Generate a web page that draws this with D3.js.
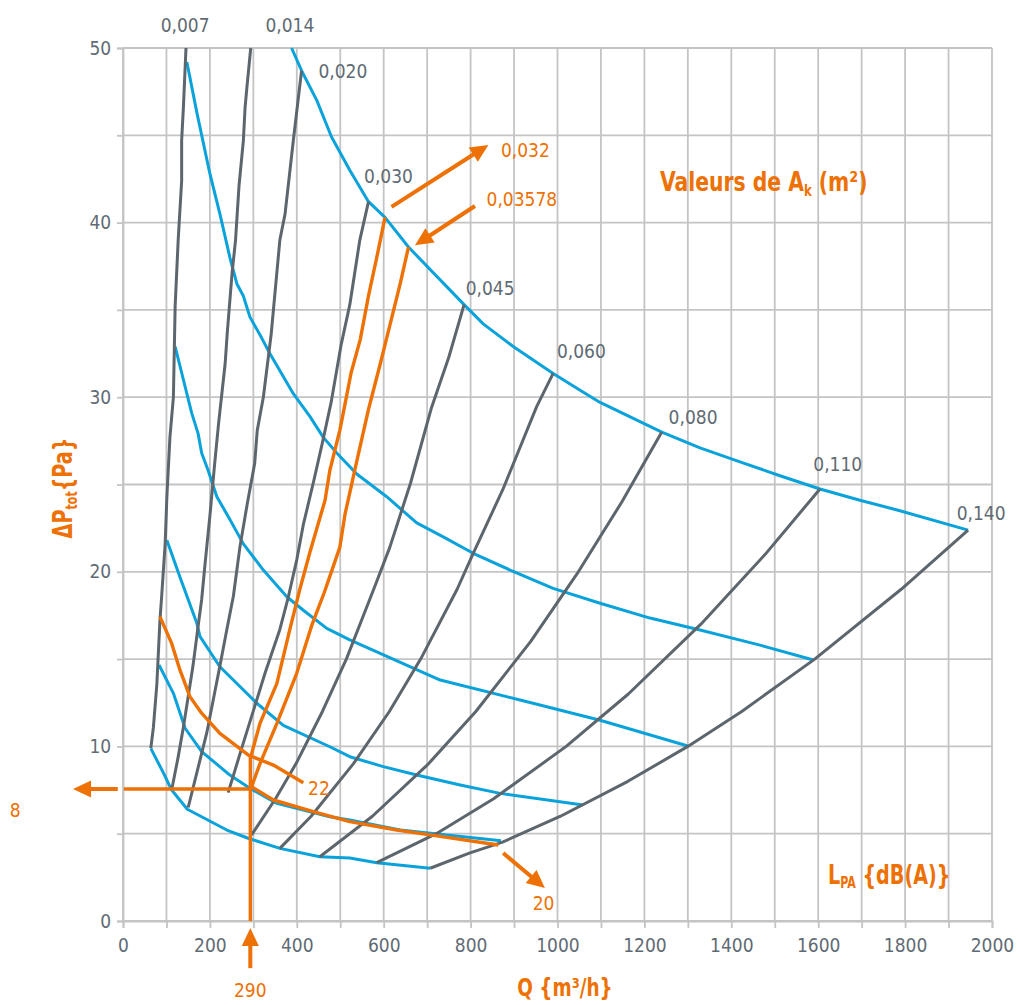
<!DOCTYPE html>
<html><head><meta charset="utf-8">
<script src="https://cdn.jsdelivr.net/npm/d3@7"></script>
<style>
html,body{margin:0;padding:0;background:#fff;}
svg text{font-family:"Liberation Sans Narrow","Arial Narrow","DejaVu Sans Condensed",sans-serif;}
</style></head><body>
<svg id="c" width="1020" height="1005"></svg>
<script>
// ---- data (Q in m3/h, dP in Pa) ----
const xTicks = [0,200,400,600,800,1000,1200,1400,1600,1800,2000];
const yTicks = [0,10,20,30,40,50];

// iso-Ak lines (grey)
const ak007 = [[145,50],[139,46.6],[135,44.7],[135,42.4],[127,39],[120,35.2],[116,30],[108,27.7],[101,24.3],[97,21.6],[89,18.6],[85,17.2],[78,13.6],[70,11.1],[64,9.9]];
const ak014 = [[294,50],[285,47.7],[281,46.6],[277,44.7],[267,42.1],[259,39],[251,37.1],[240,33.7],[235,31.9],[220,28.5],[211,26.2],[200,23.2],[189,20.5],[181,18.4],[174,17.1],[161,14.6],[139,11.1],[127,9.4],[112,7.5]];
const ak020 = [[411,48.7],[392,44.7],[373,40.5],[361,39],[341,33.6],[323,30],[309,28.1],[303,26.2],[286,23.9],[269,21.4],[254,18.6],[239,16.7],[223,14.6],[193,10.8],[150,6.5]];
const ak030 = [[565,41.2],[545,39],[522,35.3],[502,33],[479,29.7],[459,27.4],[438,25.1],[415,22.7],[400,20.7],[379,18.4],[361,16.7],[327,14.2],[272,9.8],[242,7.35]];
const ak045 = [[785,35.3],[750,32.3],[710,29.4],[662,25.1],[614,21.4],[577,19],[514,15],[459,12],[398,9],[351,7],[296,4.93]];
const ak060 = [[990,31.36],[952,29.46],[874,24.7],[806,21.06],[769,19],[685,15],[613,12],[530,9],[433,6],[361,4.16]];
const ak080 = [[1240,28],[1148,24],[1048,20],[938,16],[812,12],[703,9],[574,6],[453,3.68]];
const ak110 = [[1604,24.74],[1478,21],[1330,17],[1163,13],[1020,10],[853,7],[721,5],[584,3.34]];
const ak140 = [[1945,22.39],[1791,19],[1592,15],[1424,12],[1300,10],[1162,8],[1007,6],[872,4.5],[797,3.89],[707,3.02]];
const akLabels = ["0,007","0,014","0,020","0,030","0,045","0,060","0,080","0,110","0,140"];
const akLabelPos = [[143,50.93],[384,50.93],[506,48.3],[611,42.25],[845,35.85],[1055,32.25],[1312,28.46],[1645,25.75],[1975,22.97]];

// selected Ak (orange)
const ak032 = [[603,40.3],[584,38],[565,35.8],[546,33.3],[525,31.4],[507,29.1],[499,28.1],[476,25.8],[465,24.1],[430,21.1],[407,19],[384,16.7],[354,13.6],[315,11.3],[294,9.4]];
const ak03578 = [[657,38.6],[638,36.5],[615,34.2],[592,31.9],[565,29.3],[535,26],[511,23.3],[499,21.4],[463,18.8],[434,16.9],[400,14.2],[354,11.3],[315,9],[296,7.7]];

// iso-LPA curves (blue)
const lpaTop = [[388,50],[411,48.7],[446,47],[480,44.9],[522,43],[565,41.2],[603,40.3],[657,38.6],[785,35.3],[829,34.2],[898,32.9],[990,31.36],[1052,30.4],[1098,29.7],[1240,28],[1328,27.1],[1420,26.3],[1512,25.5],[1604,24.74],[1696,24.1],[1788,23.5],[1945,22.39]];
const lpa2 = [[147,49.2],[170,46.3],[200,42.8],[223,40.5],[246,38],[262,36.5],[277,35.8],[292,34.6],[319,33.4],[338,32.5],[392,30.2],[430,28.9],[461,27.7],[492,26.8],[538,25.6],[607,24.3],[676,22.8],[737,22],[806,21.06],[891,20.1],[990,19.05],[1098,18.2],[1213,17.35],[1328,16.67],[1466,15.8],[1589,14.95]];
const lpa3 = [[120,32.9],[139,31],[158,29.1],[173,27.9],[181,26.8],[196,25.8],[216,24.3],[246,23],[277,21.6],[323,20.1],[377,18.57],[415,17.8],[469,16.76],[522,16.1],[730,13.8],[914,12.66],[1098,11.5],[1300,10.02]];
const lpa4 = [[101,21.8],[131,19.7],[170,17.05],[177,16.3],[223,14.56],[308,12.47],[369,11.2],[476,9.98],[522,9.41],[599,8.84],[676,8.36],[776,7.79],[868,7.31],[1059,6.64]];
const lpa5 = [[83,14.66],[116,13.04],[143,11.04],[181,9.7],[246,8.36],[292,7.6],[354,6.74],[476,5.97],[522,5.78],[638,5.21],[870,4.6]];
const lpa6 = [[64,9.89],[93,8.48],[112,7.5],[148,6.4],[239,5.21],[288,4.74],[361,4.16],[453,3.68],[522,3.61],[584,3.34],[707,3.02]];

// selected LPA (orange)
const lpa22 = [[85,17.43],[112,15.9],[131,14.38],[154,12.85],[181,11.9],[223,10.75],[288,9.51],[346,8.93],[415,7.92]];
const lpa20 = [[296,7.69],[346,6.93],[438,6.26],[522,5.69],[630,5.21],[707,4.93],[864,4.35]];

// operating point
const opQ = 293, opP = 7.56;

// ---- drawing ----
const x = d3.scaleLinear().domain([0,2000]).range([123,992]);
const y = d3.scaleLinear().domain([0,50]).range([921,48]);
const svg = d3.select("#c");
const GRID = "#c4c4c4", GREY = "#5d666d", BLUE = "#0aa2da", ORANGE = "#ed7104", TXT = "#5f6b74";
const FONT = '"Liberation Sans Narrow","Arial Narrow","DejaVu Sans Condensed",sans-serif';

// grid
const g = svg.append("g");
g.selectAll(".vx").data(d3.range(0,2001,100)).enter().append("line")
  .attr("x1",d=>x(d)).attr("x2",d=>x(d)).attr("y1",y(0)).attr("y2",y(50))
  .attr("stroke",GRID).attr("stroke-width",1.8);
g.selectAll(".hy").data(d3.range(0,51,5)).enter().append("line")
  .attr("x1",x(0)).attr("x2",x(2000)).attr("y1",d=>y(d)).attr("y2",d=>y(d))
  .attr("stroke",GRID).attr("stroke-width",1.8);

// axes
const xa = svg.append("g").attr("transform",`translate(0,${y(0)})`)
  .call(d3.axisBottom(x).tickValues(d3.range(0,2001,100)).tickSize(7).tickFormat(d=>xTicks.includes(d)?d:""));
const ya = svg.append("g").attr("transform",`translate(${x(0)},0)`)
  .call(d3.axisLeft(y).tickValues(d3.range(0,51,5)).tickSize(6).tickFormat(d=>yTicks.includes(d)?d:""));
[xa,ya].forEach(a=>{
  a.select(".domain").attr("stroke",GRID).attr("stroke-width",1.8);
  a.selectAll(".tick line").attr("stroke",GRID).attr("stroke-width",1.8);
  a.selectAll(".tick text").attr("fill",TXT).attr("font-size",19).style("font-family",FONT);
});
xa.selectAll(".tick text").attr("dy","1.1em");
ya.selectAll(".tick text").attr("dx","-0.15em");

const line = d3.line().x(d=>x(d[0])).y(d=>y(d[1]));
const draw = (data,color,w)=>svg.append("path").attr("d",line(data)).attr("fill","none")
  .attr("stroke",color).attr("stroke-width",w).attr("stroke-linejoin","round").attr("stroke-linecap","butt");

[lpaTop,lpa2,lpa3,lpa4,lpa5,lpa6].forEach(d=>draw(d,BLUE,3));
[ak007,ak014,ak020,ak030,ak045,ak060,ak080,ak110,ak140].forEach(d=>draw(d,GREY,3));
[ak032,ak03578,lpa22,lpa20].forEach(d=>draw(d,ORANGE,3.4));
draw([[opQ,0],[opQ,9.4]],ORANGE,3.4);
draw([[2,opP],[opQ,opP]],ORANGE,3.4);

// labels for Ak
svg.selectAll(".akl").data(akLabels).enter().append("text")
  .attr("x",(d,i)=>x(akLabelPos[i][0])).attr("y",(d,i)=>y(akLabelPos[i][1]))
  .attr("text-anchor","middle").attr("fill",TXT).attr("font-size",19).text(d=>d);

// arrows
function arrow(from,to,color){
  const x1=x(from[0]),y1=y(from[1]),x2=x(to[0]),y2=y(to[1]);
  const a=Math.atan2(y2-y1,x2-x1), L=18, Wd=8.5;
  const bx=x2-L*Math.cos(a), by=y2-L*Math.sin(a);
  svg.append("line").attr("x1",x1).attr("y1",y1).attr("x2",bx+2*Math.cos(a)).attr("y2",by+2*Math.sin(a))
    .attr("stroke",color).attr("stroke-width",4);
  svg.append("path").attr("fill",color).attr("d",
    `M${x2},${y2}L${bx+Wd*Math.sin(a)},${by-Wd*Math.cos(a)}L${bx-Wd*Math.sin(a)},${by+Wd*Math.cos(a)}Z`);
}
arrow([618,40.9],[841,44.45],ORANGE);
arrow([810,40.95],[672,38.7],ORANGE);
arrow([875,3.89],[971,1.89],ORANGE);
arrow([-12,opP],[-115,opP],ORANGE);
arrow([opQ,-2.7],[opQ,-0.4],ORANGE);

const otext = (q,p,t,anchor)=>svg.append("text").attr("x",x(q)).attr("y",y(p))
  .attr("text-anchor",anchor||"middle").attr("fill",ORANGE).attr("font-size",19).text(t);
otext(926,43.74,"0,032");
otext(918,40.95,"0,03578");
otext(426,7.2,"22","start");
otext(968,0.63,"20");
otext(-248,5.97,"8");
otext(opQ,-4.35,"290");

// titles (bold condensed)
const bold = (xx,yy,anchor,sx,rot,fs)=>svg.append("g")
  .attr("transform",`translate(${xx},${yy})${rot?" rotate(-90)":""} scale(${sx},1)`)
  .append("text").attr("text-anchor",anchor)
  .attr("fill",ORANGE).attr("font-size",fs||26).attr("font-weight","bold");
const t1 = bold(660,191,"start",0.87);
t1.append("tspan").text("Valeurs de A");
t1.append("tspan").attr("font-size",15).attr("dy",5).text("k");
t1.append("tspan").attr("dy",-5).text(" (m²)");
const t2 = bold(828,884,"start",0.82);
t2.append("tspan").text("L");
t2.append("tspan").attr("font-size",15).attr("dy",4).text("PA");
t2.append("tspan").attr("dy",-4).text(" {dB(A)}");
bold(565,996,"middle",0.82,false,25).text("Q {m³/h}");
const t3 = bold(72,488,"middle",0.82,true);
t3.append("tspan").text("ΔP");
t3.append("tspan").attr("font-size",15).attr("dy",5).text("tot");
t3.append("tspan").attr("dy",-5).text("{Pa}");
</script></body></html>
